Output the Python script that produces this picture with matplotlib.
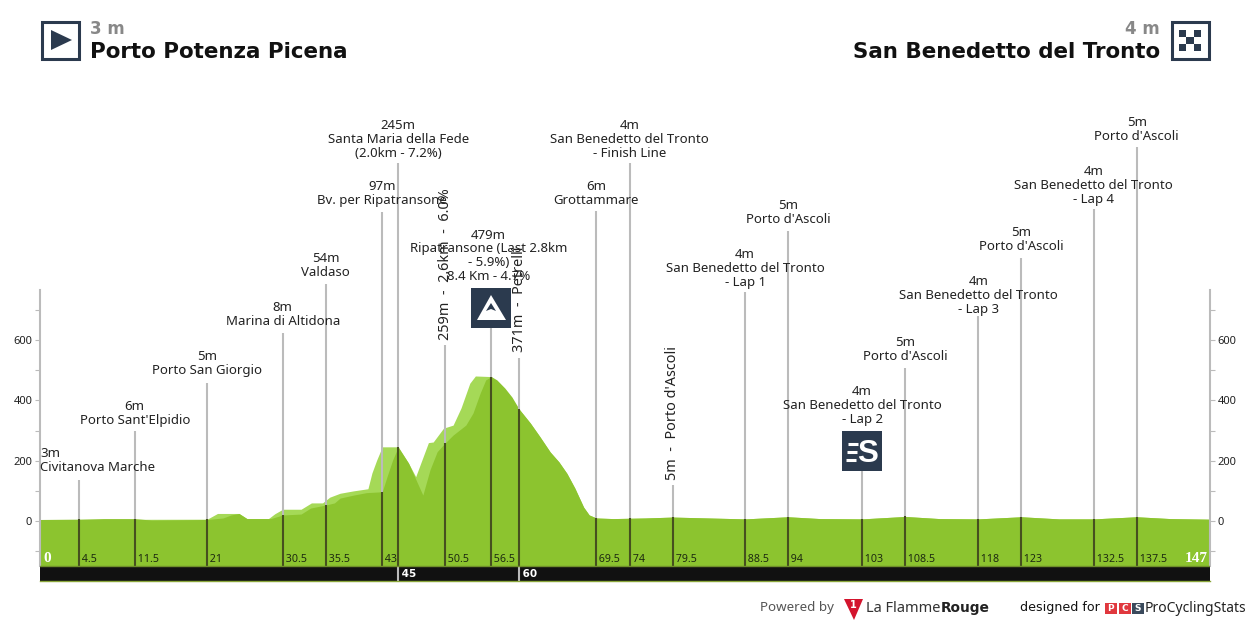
#!/usr/bin/env python3
import matplotlib
matplotlib.use("Agg")
import matplotlib.pyplot as plt
from matplotlib.patches import Polygon, Rectangle

plt.rcParams['font.family'] = ['Noto Sans', 'DejaVu Sans']

# profil
dark_km = [0, 4.9, 8, 11.9, 14, 21, 23, 24, 25, 26, 29, 30.5, 32.8, 34, 35.9, 37, 37.7, 39.4, 41, 43,
           43.6, 44.3, 45, 46.3, 48.1, 49, 49.9, 50.9, 51.9, 53.5, 54.4, 55.3, 56, 56.7, 57.4, 58.4, 59.3, 60.2,
           61.6, 62.8, 64.1, 65.2, 66.2, 67.2, 68.3, 69, 69.9, 72, 76, 79.5, 84, 88.6, 94, 98, 103.3, 108.7,
           113, 117.9, 123.3, 128, 132.4, 137.8, 142, 147]
dark_elev = [5, 6, 8, 8, 3, 5, 10, 20, 25, 8, 8, 20, 23, 43, 53, 60, 76, 86, 94, 97,
             147, 202, 245, 192, 86, 170, 230, 259, 285, 318, 358, 424, 468, 479, 468, 441, 411, 371,
             325, 280, 229, 196, 158, 109, 46, 20, 10, 8, 10, 13, 10, 7, 14, 8, 7, 15,
             8, 7, 14, 7, 7, 14, 8, 6]
light_km = [0, 21, 22.3, 25, 26, 28.7, 29.5, 30.5, 32.8, 34.1, 35.5, 36.4, 37.7, 39.4, 41.2, 41.7, 42.3, 43,
            45, 46.3, 47.2, 48.8, 49.4, 50.7, 51.9, 52.9, 54, 54.7, 56.7, 60.2, 147]
light_elev = [5, 6, 25, 25, 8, 8, 24, 39, 39, 60, 60, 79, 92, 100, 107, 159, 202, 246,
              246, 192, 147, 260, 262, 308, 318, 375, 457, 481, 479, 371, 0]

# points de passage
wp_km = [4.9, 11.9, 21, 30.5, 35.9, 43, 45, 50.9, 56.7, 60.2, 69.9, 74.1, 79.5, 88.6, 94, 103.3, 108.7, 117.9, 123.3, 132.4, 137.8]
wp_elev = [6, 8, 5, 20, 53, 97, 245, 259, 479, 371, 10, 9, 13, 7, 14, 7, 15, 7, 14, 7, 14]
wp_km_labels = ['4.5', '11.5', '21', '30.5', '35.5', '43', '', '50.5', '56.5', '', '69.5', '74', '79.5', '88.5',
                '94', '103', '108.5', '118', '123', '132.5', '137.5']
wp_text = ["3m\nCivitanova Marche", "6m\nPorto Sant'Elpidio", "5m\nPorto San Giorgio", "8m\nMarina di Altidona",
           "54m\nValdaso", "97m\nBv. per Ripatransone", "245m\nSanta Maria della Fede\n(2.0km - 7.2%)",
           "259m  -  2.6km  -  6.0%", "479m\nRipatransone (Last 2.8km\n- 5.9%)\n8.4 Km - 4.7%", "371m  -  Petrelli",
           "6m\nGrottammare", "4m\nSan Benedetto del Tronto\n- Finish Line", "5m  -  Porto d'Ascoli",
           "4m\nSan Benedetto del Tronto\n- Lap 1", "5m\nPorto d'Ascoli", "4m\nSan Benedetto del Tronto\n- Lap 2",
           "5m\nPorto d'Ascoli", "4m\nSan Benedetto del Tronto\n- Lap 3", "5m\nPorto d'Ascoli",
           "4m\nSan Benedetto del Tronto\n- Lap 4", "5m\nPorto d'Ascoli"]
# haut des traits, en pixels image
stem_top = [480, 431, 383, 333, 284, 212, 163, 345, 328, 358, 211, 163, 485, 292, 231, 471, 368, 316, 258, 209, 147]
# bas du texte, en pixels image
text_bottom = [474, 427, 377, 328, 279, 207, 160, 340, 283, 352, 207, 160, 480, 289, 226, 426, 363, 316, 253, 206, 143]
segment_km = [45, 60.2]
segment_labels = ['45', '60']
ticks = [-100, 0, 100, 200, 300, 400, 500, 600, 700]
tick_labels = ['', '0', '', '200', '', '400', '', '600', '']

NAVY = '#2b3a4e'
DARK = '#8cc42f'
LIGHT = '#a5d957'
BOLD = 'DejaVu Sans'


def py2elev(py):
    return (521 - py) / 0.3015


def km2px(km):
    return 40 + km * 1170 / 147


# apres le km 60 le profil clair suit le profil fonce
light_km = light_km[:-2] + [k for k in dark_km if k >= 60.2]
light_elev = light_elev[:-2] + [e for k, e in zip(dark_km, dark_elev) if k >= 60.2]

fig = plt.figure(figsize=(12.5, 6.25), dpi=100)
# axe du profil : x 40..1210, y 290..581 en pixels
ax = fig.add_axes([40 / 1250, 1 - 581 / 625, 1170 / 1250, 291 / 625])
ax.set_xlim(0, 147)
ax.set_ylim(py2elev(581), py2elev(290))
ax.patch.set_alpha(0)

ax.fill_between(light_km, -150, light_elev, color=LIGHT, lw=0, zorder=1)
ax.fill_between(dark_km, -150, dark_elev, color=DARK, lw=0, zorder=2)
ax.axhspan(py2elev(581), -150, color='#111111', lw=0, zorder=3)

for km, el, top in zip(wp_km, wp_elev, stem_top):
    ax.vlines(km, el, py2elev(top), color='#bbbbbb', lw=1.5, zorder=2.5, clip_on=False)
    ax.vlines(km, -150, el, color='#46501f', lw=1.5, zorder=2.5)
for km, lab in zip(segment_km, segment_labels):
    ax.vlines(km, py2elev(581), -150, color='#bbbbbb', lw=1.5, zorder=4)
    ax.text(km, py2elev(574), ' ' + lab, color='white', fontsize=7.5, fontweight='bold', family=BOLD, ha='left', va='center', zorder=5)
ax.plot([0, 147], [py2elev(580.5)] * 2, color='#8aa63a', lw=1, zorder=5, clip_on=False)
ax.plot([0, 147], [-150, -150], color='#6f8f2a', lw=1, zorder=4)

for name in ['top', 'bottom']:
    ax.spines[name].set_visible(False)
for name in ['left', 'right']:
    ax.spines[name].set_color('#bbbbbb')
    ax.spines[name].set_linewidth(1.5)
    ax.spines[name].set_bounds(-150, py2elev(290))
ax.set_xticks([])
ax.set_yticks(ticks)
ax.set_yticklabels(tick_labels)
ax.tick_params(axis='y', left=True, right=True, labelleft=True, labelright=True,
               length=3.6, width=0.8, color='#bbbbbb', labelsize=8, labelcolor='#222222', pad=2)

for km, lab in zip(wp_km, wp_km_labels):
    if lab:
        ax.text(km, py2elev(559), ' ' + lab, fontsize=7.7, color='#1d2a10', ha='left', va='center', zorder=5)
ax.text(0.4, py2elev(559), '0', color='white', fontsize=11, fontweight='bold', family='Liberation Serif', ha='left', va='center', zorder=5)
ax.text(146.7, py2elev(559), '147', color='white', fontsize=11, fontweight='bold', family='Liberation Serif', ha='right', va='center', zorder=5)

# calque en pixels pour les textes et icones
px = fig.add_axes([0, 0, 1, 1])
px.set_xlim(0, 1250)
px.set_ylim(625, 0)
px.axis('off')
px.patch.set_alpha(0)

for i, (km, txt, bot) in enumerate(zip(wp_km, wp_text, text_bottom)):
    x = km2px(km)
    if '  -  ' in txt:
        px.text(x, bot, txt, rotation=90, ha='center', va='bottom', fontsize=10.4, color='#222222', zorder=6)
    elif i == 0:
        px.text(40, bot, txt, ha='left', va='bottom', fontsize=9.5, color='#222222', linespacing=1.08, zorder=6)
    else:
        px.text(x - (3 if km == 56.7 else 0), bot, txt, ha='center', va='bottom', fontsize=9.5, color='#222222', linespacing=1.08, zorder=6)

# depart / arrivee
px.add_patch(Rectangle((41.5, 21.5), 37, 37, fc='white', ec=NAVY, lw=2.2))
px.add_patch(Polygon([[51, 30], [72, 40], [51, 50]], fc=NAVY, ec='none'))
px.add_patch(Rectangle((1171.5, 21.5), 37, 37, fc='white', ec=NAVY, lw=2.2))
for r in range(3):
    for c in range(3):
        col = NAVY if (r + c) % 2 == 0 else 'white'
        px.add_patch(Rectangle((1179 + c * 7.3, 29.5 + r * 7.3), 7.3, 7.3, fc=col, ec='none'))
px.text(90, 29, '3 m', fontsize=12, fontweight='bold', family=BOLD, color='#888888', ha='left', va='center')
px.text(90, 52, 'Porto Potenza Picena', fontsize=15.4, fontweight='bold', family=BOLD, color='#111111', ha='left', va='center')
px.text(1160, 29, '4 m', fontsize=12, fontweight='bold', family=BOLD, color='#888888', ha='right', va='center')
px.text(1160, 52, 'San Benedetto del Tronto', fontsize=15.4, fontweight='bold', family=BOLD, color='#111111', ha='right', va='center')

# icone montagne
px.add_patch(Rectangle((471, 288), 40, 40, fc=NAVY, ec='none', zorder=6))
px.add_patch(Polygon([[491, 295], [506, 320], [477, 320]], fc='white', ec='none', zorder=7))
px.add_patch(Polygon([[491, 303], [496, 311], [491, 309], [486, 311]], fc=NAVY, ec='none', zorder=8))

# icone sprint
px.add_patch(Rectangle((842, 431), 40, 40, fc=NAVY, ec='none', zorder=6))
px.text(867.5, 454, 'S', color='white', fontsize=22.5, fontweight='bold', family='Liberation Sans', ha='center', va='center', zorder=7)
for yy, x0 in zip([444, 452, 460], [848, 847, 846]):
    px.plot([x0, x0 + 10], [yy, yy], color='white', lw=2.2, solid_capstyle='butt', zorder=7)

# pied de page
px.text(760, 608, 'Powered by', fontsize=9.6, color='#555555', ha='left', va='center')
px.add_patch(Polygon([[844, 599], [863, 599], [854, 620]], fc='#d3142d', ec='none'))
px.text(853.5, 605, '1', color='white', fontsize=7, fontweight='bold', family=BOLD, ha='center', va='center')
px.text(866, 608, 'La Flamme', fontsize=10.5, color='#333333', ha='left', va='center')
px.text(941, 608, 'Rouge', fontsize=9.9, fontweight='bold', family=BOLD, color='#222222', ha='left', va='center')
px.text(1020, 608, 'designed for', fontsize=9.1, family=BOLD, color='#111111', ha='left', va='center')
for x0, letter, col in zip([1105, 1119, 1132], ['P', 'C', 'S'], ['#e0383e', '#e0383e', '#3a4a5c']):
    px.add_patch(Rectangle((x0, 603), 11.5, 11, fc=col, ec='none'))
    px.text(x0 + 5.7, 608.5, letter, color='white', fontsize=6.5, fontweight='bold', family=BOLD, ha='center', va='center')
px.text(1145, 608, 'ProCyclingStats', fontsize=10, color='#222222', ha='left', va='center')

fig.savefig('out.png', dpi=100)
